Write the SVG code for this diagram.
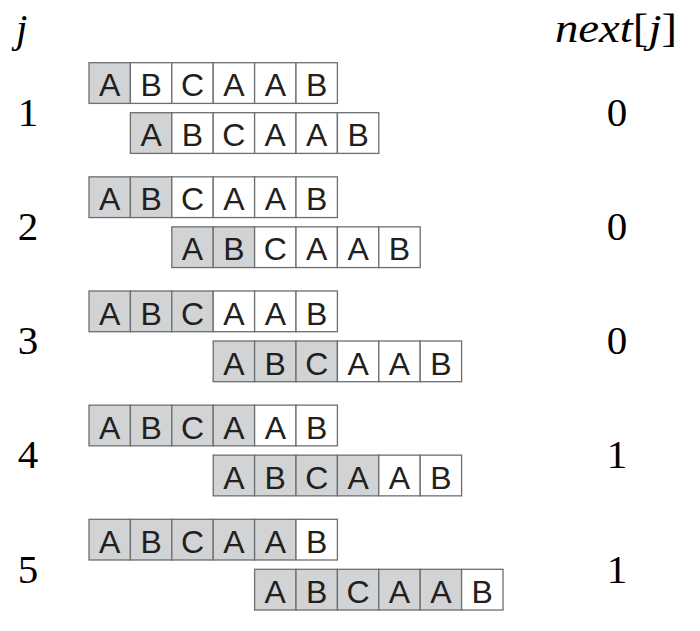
<svg xmlns="http://www.w3.org/2000/svg" width="700" height="631" viewBox="0 0 700 631">
<style>
.g{fill:#d1d3d4;stroke:#6d6e70;stroke-width:1.3}
.w{fill:#ffffff;stroke:#6d6e70;stroke-width:1.3}
.c{font-family:"Liberation Sans",Arial,sans-serif;font-size:32px;fill:#231f20;text-anchor:middle}
.m{font-family:"Liberation Serif","Times New Roman",serif;font-size:41px;fill:#000;text-anchor:middle}
.i{font-family:"Liberation Serif","Times New Roman",serif;font-size:41px;fill:#000;font-style:italic}
</style>
<defs>
<g id="cellG"><rect class="g" x="0" y="0" width="41.4" height="40.7"/></g>
<g id="cellW"><rect class="w" x="0" y="0" width="41.4" height="40.7"/></g>
</defs>
<g id="header">
<text class="i" x="16" y="42">j</text>
<text x="555" y="42" class="i" textLength="122" lengthAdjust="spacingAndGlyphs">next<tspan font-style="normal">[</tspan>j<tspan font-style="normal">]</tspan></text>
</g>

<g id="row1">
<text class="m" x="28" y="126">1</text>
<text class="m" x="617" y="126">0</text>
<g transform="translate(89,62.7)">
<use href="#cellG" x="0"/><use href="#cellW" x="41.4"/><use href="#cellW" x="82.8"/><use href="#cellW" x="124.2"/><use href="#cellW" x="165.6"/><use href="#cellW" x="207"/>
<text class="c" x="20.7" y="33.5">A</text><text class="c" x="62.1" y="33.5">B</text><text class="c" x="103.5" y="33.5">C</text><text class="c" x="144.9" y="33.5">A</text><text class="c" x="186.3" y="33.5">A</text><text class="c" x="227.7" y="33.5">B</text>
</g>
<g transform="translate(130.4,112.7)">
<use href="#cellG" x="0"/><use href="#cellW" x="41.4"/><use href="#cellW" x="82.8"/><use href="#cellW" x="124.2"/><use href="#cellW" x="165.6"/><use href="#cellW" x="207"/>
<text class="c" x="20.7" y="33.5">A</text><text class="c" x="62.1" y="33.5">B</text><text class="c" x="103.5" y="33.5">C</text><text class="c" x="144.9" y="33.5">A</text><text class="c" x="186.3" y="33.5">A</text><text class="c" x="227.7" y="33.5">B</text>
</g>
</g>

<g id="row2">
<text class="m" x="28" y="240.15">2</text>
<text class="m" x="617" y="240.15">0</text>
<g transform="translate(89,176.85)">
<use href="#cellG" x="0"/><use href="#cellG" x="41.4"/><use href="#cellW" x="82.8"/><use href="#cellW" x="124.2"/><use href="#cellW" x="165.6"/><use href="#cellW" x="207"/>
<text class="c" x="20.7" y="33.5">A</text><text class="c" x="62.1" y="33.5">B</text><text class="c" x="103.5" y="33.5">C</text><text class="c" x="144.9" y="33.5">A</text><text class="c" x="186.3" y="33.5">A</text><text class="c" x="227.7" y="33.5">B</text>
</g>
<g transform="translate(171.8,226.85)">
<use href="#cellG" x="0"/><use href="#cellG" x="41.4"/><use href="#cellW" x="82.8"/><use href="#cellW" x="124.2"/><use href="#cellW" x="165.6"/><use href="#cellW" x="207"/>
<text class="c" x="20.7" y="33.5">A</text><text class="c" x="62.1" y="33.5">B</text><text class="c" x="103.5" y="33.5">C</text><text class="c" x="144.9" y="33.5">A</text><text class="c" x="186.3" y="33.5">A</text><text class="c" x="227.7" y="33.5">B</text>
</g>
</g>

<g id="row3">
<text class="m" x="28" y="354.3">3</text>
<text class="m" x="617" y="354.3">0</text>
<g transform="translate(89,291)">
<use href="#cellG" x="0"/><use href="#cellG" x="41.4"/><use href="#cellG" x="82.8"/><use href="#cellW" x="124.2"/><use href="#cellW" x="165.6"/><use href="#cellW" x="207"/>
<text class="c" x="20.7" y="33.5">A</text><text class="c" x="62.1" y="33.5">B</text><text class="c" x="103.5" y="33.5">C</text><text class="c" x="144.9" y="33.5">A</text><text class="c" x="186.3" y="33.5">A</text><text class="c" x="227.7" y="33.5">B</text>
</g>
<g transform="translate(213.2,341)">
<use href="#cellG" x="0"/><use href="#cellG" x="41.4"/><use href="#cellG" x="82.8"/><use href="#cellW" x="124.2"/><use href="#cellW" x="165.6"/><use href="#cellW" x="207"/>
<text class="c" x="20.7" y="33.5">A</text><text class="c" x="62.1" y="33.5">B</text><text class="c" x="103.5" y="33.5">C</text><text class="c" x="144.9" y="33.5">A</text><text class="c" x="186.3" y="33.5">A</text><text class="c" x="227.7" y="33.5">B</text>
</g>
</g>

<g id="row4">
<text class="m" x="28" y="468.45">4</text>
<text class="m" x="617" y="468.45">1</text>
<g transform="translate(89,405.15)">
<use href="#cellG" x="0"/><use href="#cellG" x="41.4"/><use href="#cellG" x="82.8"/><use href="#cellG" x="124.2"/><use href="#cellW" x="165.6"/><use href="#cellW" x="207"/>
<text class="c" x="20.7" y="33.5">A</text><text class="c" x="62.1" y="33.5">B</text><text class="c" x="103.5" y="33.5">C</text><text class="c" x="144.9" y="33.5">A</text><text class="c" x="186.3" y="33.5">A</text><text class="c" x="227.7" y="33.5">B</text>
</g>
<g transform="translate(213.2,455.15)">
<use href="#cellG" x="0"/><use href="#cellG" x="41.4"/><use href="#cellG" x="82.8"/><use href="#cellG" x="124.2"/><use href="#cellW" x="165.6"/><use href="#cellW" x="207"/>
<text class="c" x="20.7" y="33.5">A</text><text class="c" x="62.1" y="33.5">B</text><text class="c" x="103.5" y="33.5">C</text><text class="c" x="144.9" y="33.5">A</text><text class="c" x="186.3" y="33.5">A</text><text class="c" x="227.7" y="33.5">B</text>
</g>
</g>

<g id="row5">
<text class="m" x="28" y="582.6">5</text>
<text class="m" x="617" y="582.6">1</text>
<g transform="translate(89,519.3)">
<use href="#cellG" x="0"/><use href="#cellG" x="41.4"/><use href="#cellG" x="82.8"/><use href="#cellG" x="124.2"/><use href="#cellG" x="165.6"/><use href="#cellW" x="207"/>
<text class="c" x="20.7" y="33.5">A</text><text class="c" x="62.1" y="33.5">B</text><text class="c" x="103.5" y="33.5">C</text><text class="c" x="144.9" y="33.5">A</text><text class="c" x="186.3" y="33.5">A</text><text class="c" x="227.7" y="33.5">B</text>
</g>
<g transform="translate(254.6,569.3)">
<use href="#cellG" x="0"/><use href="#cellG" x="41.4"/><use href="#cellG" x="82.8"/><use href="#cellG" x="124.2"/><use href="#cellG" x="165.6"/><use href="#cellW" x="207"/>
<text class="c" x="20.7" y="33.5">A</text><text class="c" x="62.1" y="33.5">B</text><text class="c" x="103.5" y="33.5">C</text><text class="c" x="144.9" y="33.5">A</text><text class="c" x="186.3" y="33.5">A</text><text class="c" x="227.7" y="33.5">B</text>
</g>
</g>
</svg>
